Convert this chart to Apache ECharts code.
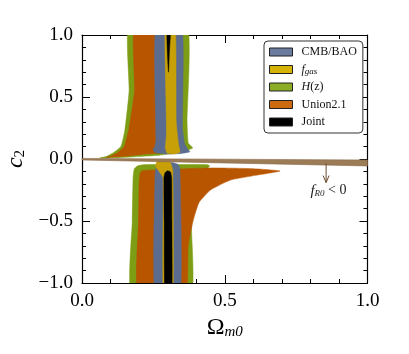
<!DOCTYPE html>
<html>
<head>
<meta charset="utf-8">
<script src="https://cdn.jsdelivr.net/npm/echarts@6/dist/echarts.min.js"></script>
<style>
html, body { margin: 0; padding: 0; background: #fff; }
#chart { width: 409px; height: 354px; }
</style>
</head>
<body>
<div id="chart"></div>
<script>
// region outlines, points are [Omega_m0, c2]
// (the ends at +-1.1 run past the frame and get clipped)
var cmbUpper = [[0.259,1.1],[0.259,0.15],[0.255,0.1],[0.249,0.075],[0.258,0.05],[0.3,0.04],[0.35,0.045],[0.378,0.058],[0.372,0.075],[0.36,0.12],[0.352,0.25],[0.349,1.1]];
var cmbLower = [[0.256,-1.1],[0.256,-0.12],[0.26,-0.06],[0.27,-0.035],[0.29,-0.027],[0.32,-0.03],[0.337,-0.045],[0.343,-0.08],[0.343,-1.1]];

var fgasUpper = [[0.292,1.1],[0.294,0.5],[0.296,0.2],[0.292,0.09],[0.298,0.048],[0.32,0.04],[0.343,0.055],[0.338,0.12],[0.33,0.3],[0.326,1.1]];
var fgasLower = [[0.285,-1.1],[0.284,-0.15],[0.27,-0.1],[0.258,-0.06],[0.262,-0.02],[0.278,-0.008],[0.298,-0.008],[0.31,-0.03],[0.318,-0.09],[0.318,-1.1]];

var hzUpper = [[0.166,1.1],[0.165,0.55],[0.15,0.23],[0.136,0.1],[0.11,0.05],[0.085,0.02],[0.062,0.008],[0.12,0.01],[0.2,0.02],[0.27,0.03],[0.33,0.05],[0.375,0.075],[0.388,0.09],[0.372,0.13],[0.368,0.3],[0.367,1.1]];
var hzLower = [[0.174,-1.1],[0.176,-0.5],[0.179,-0.15],[0.183,-0.08],[0.195,-0.055],[0.215,-0.046],[0.44,-0.046],[0.447,-0.055],[0.44,-0.075],[0.428,-0.1],[0.41,-0.2],[0.392,-0.35],[0.383,-0.5],[0.381,-1.1]];

var unionUpper = [[0.186,1.1],[0.184,0.55],[0.165,0.25],[0.148,0.1],[0.125,0.05],[0.1,0.022],[0.085,0.014],[0.14,0.02],[0.2,0.035],[0.25,0.045],[0.3,0.05],[0.34,0.07],[0.345,0.2],[0.345,1.1]];
var unionLower = [[0.197,-1.1],[0.198,-0.5],[0.2,-0.2],[0.203,-0.12],[0.21,-0.095],[0.25,-0.088],[0.45,-0.072],[0.6,-0.078],[0.694,-0.097],[0.613,-0.13],[0.52,-0.17],[0.45,-0.25],[0.41,-0.35],[0.39,-0.49],[0.372,-0.7],[0.361,-1.1]];

var jointUpper = [[0.297,1.1],[0.311,1.1],[0.306,0.86],[0.303,0.70],[0.299,0.86]];
var jointLower = [[0.291,-1.1],[0.288,-0.5],[0.287,-0.15],[0.291,-0.11],[0.3,-0.095],[0.31,-0.105],[0.314,-0.15],[0.315,-0.5],[0.314,-1.1]];

// f_R0 < 0 band near c2 = 0
var fr0Band = [[0,0.005],[1,-0.008],[1,-0.056],[0,-0.008]];
var arrowFrom = [0.855, -0.035];
var arrowTo = [0.855, -0.19];
var arrowLabelAt = [0.80, -0.255];

var chart = echarts.init(document.getElementById('chart'));

function regionSeries(name, regions, color, z) {
	return {
		name: name,
		type: 'custom',
		z: z,
		clip: true,
		itemStyle: { color: color },
		data: regions.map(function (r) { return r[0]; }),
		renderItem: function (params, api) {
			var pts = regions[params.dataIndex].map(function (p) { return api.coord(p); });
			return {
				type: 'polygon',
				shape: { points: pts, smooth: 0.15 },
				style: { fill: color, stroke: color, lineWidth: 0.5 }
			};
		}
	};
}

var serif = 'Liberation Serif';
var axisCommon = {
	min: 0, max: 1, interval: 0.5,
	axisLine: { show: true, onZero: false, lineStyle: { color: '#000', width: 1.2 } },
	axisTick: { show: true, inside: true, length: 8, lineStyle: { color: '#000', width: 1 } },
	minorTick: { show: true, splitNumber: 5, length: 4, lineStyle: { color: '#000', width: 1 } },
	splitLine: { show: false }
};
function fmt(v) {
	return (v < 0 ? '\u2212' : '') + Math.abs(v).toFixed(1);
}

chart.setOption({
	animation: false,
	backgroundColor: '#fff',
	grid: { left: 82, right: 41.5, top: 35, bottom: 71, outerBoundsMode: 'none', containLabel: false },
	legend: {
		orient: 'vertical',
		left: 264, top: 41,
		data: [
			{ name: 'CMB/BAO', itemStyle: { color: '#6b7b9e' } },
			{ name: 'fgas', itemStyle: { color: '#d4b206' } },
			{ name: 'Hz', itemStyle: { color: '#8bac24' } },
			{ name: 'Union2.1', itemStyle: { color: '#cc6a12' } },
			{ name: 'Joint', itemStyle: { color: '#000' } }
		],
		icon: 'rect',
		itemWidth: 23, itemHeight: 8, itemGap: 3.5,
		padding: [4, 6, 4, 5],
		borderColor: '#333', borderWidth: 1, borderRadius: 4,
		backgroundColor: '#fff',
		itemStyle: { borderColor: '#222', borderWidth: 1 },
		selectedMode: false,
		formatter: function (n) {
			if (n === 'fgas') return '{i|f}{s|gas}';
			if (n === 'Hz') return '{i|H}(z)';
			return n;
		},
		textStyle: {
			fontFamily: serif, fontSize: 12, color: '#111', lineHeight: 14,
			padding: [0, 0, 0, 4],
			rich: {
				i: { fontFamily: serif, fontSize: 12, fontStyle: 'italic', color: '#111' },
				s: { fontFamily: serif, fontSize: 9, fontStyle: 'italic', color: '#111', padding: [5, 0, 0, 0] }
			}
		}
	},
	xAxis: [
		Object.assign({}, axisCommon, {
			type: 'value', position: 'bottom',
			name: '{o|\u03A9}{s|m0}', nameLocation: 'middle', nameGap: 31,
			nameTextStyle: {
				rich: {
					o: { fontFamily: serif, fontSize: 24, color: '#000' },
					s: { fontFamily: serif, fontSize: 15, fontStyle: 'italic', color: '#000', padding: [9, 0, 0, 0] }
				}
			},
			axisLabel: { margin: 9, fontFamily: serif, fontSize: 19, color: '#000', formatter: fmt }
		}),
		Object.assign({}, axisCommon, {
			type: 'value', position: 'top', axisLabel: { show: false }
		})
	],
	yAxis: [
		Object.assign({}, axisCommon, {
			type: 'value', position: 'left', min: -1, max: 1,
			name: '{c|c}{s|2}', nameLocation: 'middle', nameGap: 53, nameRotate: 90,
			nameTextStyle: {
				rich: {
					c: { fontFamily: serif, fontSize: 24, fontStyle: 'italic', color: '#000' },
					s: { fontFamily: serif, fontSize: 15, color: '#000', padding: [9, 0, 0, 0] }
				}
			},
			axisLabel: { margin: 9, fontFamily: serif, fontSize: 19, color: '#000', formatter: fmt }
		}),
		Object.assign({}, axisCommon, {
			type: 'value', position: 'right', min: -1, max: 1, axisLabel: { show: false }
		})
	],
	series: [
		regionSeries('Hz', [hzUpper, hzLower], '#7c9d14', 1),
		regionSeries('Union2.1', [unionUpper, unionLower], '#b85500', 2),
		regionSeries('CMB/BAO', [cmbUpper, cmbLower], '#5b6c8e', 3),
		regionSeries('fgas', [fgasUpper, fgasLower], '#c6a006', 4),
		regionSeries('Joint', [jointUpper, jointLower], '#000', 5),
		{
			type: 'custom', z: 6, silent: true,
			data: [fr0Band[0]],
			renderItem: function (params, api) {
				var pts = fr0Band.map(function (p) { return api.coord(p); });
				var a = api.coord(arrowFrom), b = api.coord(arrowTo), t = api.coord(arrowLabelAt);
				return {
					type: 'group',
					children: [
						{ type: 'polygon', shape: { points: pts }, style: { fill: '#9c7b57', stroke: '#8a6a48', lineWidth: 0.6 } },
						{ type: 'line', shape: { x1: a[0], y1: a[1], x2: b[0], y2: b[1] }, style: { stroke: '#6b4a30', lineWidth: 1 } },
						{ type: 'polyline', shape: { points: [[b[0] - 3, b[1] - 7], [b[0], b[1]], [b[0] + 3, b[1] - 7]] }, style: { stroke: '#6b4a30', lineWidth: 1, fill: null } },
						{
							type: 'text', x: t[0], y: t[1],
							style: {
								text: '{f|f}{s|R0} < 0',
								fontFamily: serif, fontSize: 14, fill: '#222',
								verticalAlign: 'middle',
								rich: {
									f: { fontFamily: serif, fontSize: 15, fontStyle: 'italic', fill: '#222' },
									s: { fontFamily: serif, fontSize: 9, fontStyle: 'italic', fill: '#222', padding: [6, 0, 0, 0] }
								}
							}
						}
					]
				};
			}
		}
	]
});
</script>
</body>
</html>
